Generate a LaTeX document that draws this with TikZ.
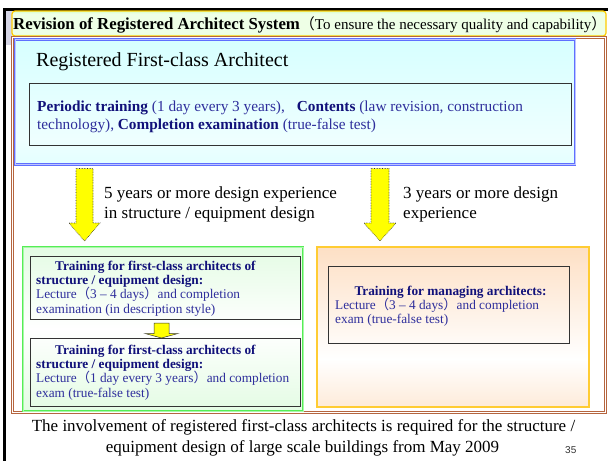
\documentclass[tikz,border=0pt]{standalone}
\usepackage{fontspec}
\setmainfont{Liberation Serif}
\newfontfamily\cjk{Noto Sans CJK JP}
\newfontfamily\sansf{Liberation Sans}
\usetikzlibrary{calc}
\definecolor{brn}{HTML}{B5653F}
\definecolor{bluel}{HTML}{5F6FFF}
\definecolor{cyanf}{HTML}{C8FFFF}
\definecolor{cyanl}{HTML}{EEFFFF}
\definecolor{grn}{HTML}{55EE55}
\definecolor{grnf}{HTML}{C8F8C8}
\definecolor{gold}{HTML}{FFCC33}
\definecolor{peach}{HTML}{FCC99B}
\definecolor{navyb}{HTML}{11117A}
\definecolor{navyr}{HTML}{2E2E9C}
\definecolor{titlegreen}{HTML}{66FF33}
\definecolor{titlepale}{HTML}{EEFFE6}
\definecolor{ttyel}{HTML}{FFCC00}
\definecolor{lav}{HTML}{D6D6E6}
\definecolor{arrowyel}{HTML}{FFFF00}
\pgfdeclareverticalshading{titlesh}{100bp}{color(0bp)=(titlegreen); color(30bp)=(titlepale); color(70bp)=(titlepale); color(100bp)=(titlegreen)}
\pgfdeclareverticalshading{bluesh}{100bp}{color(0bp)=(cyanf); color(35bp)=(cyanl); color(100bp)=(cyanf)}
\pgfdeclareverticalshading{greensh}{100bp}{color(0bp)=(grnf); color(50bp)=(white); color(100bp)=(grnf)}
\pgfdeclareverticalshading{orangesh}{100bp}{color(0bp)=(peach); color(40bp)=(white); color(100bp)=(peach)}
\tikzset{
  box/.style={anchor=north west, inner sep=0pt, outer sep=0pt},
  titlebar/.style={box, draw=ttyel, line width=1.2pt, rounded corners=3pt, shading=titlesh},
  brownbox/.style={box, draw=brn, double=white, double distance=1.2pt, line width=0.8pt},
  bluebox/.style={box, draw=bluel, double=white!60!bluel, double distance=0.7pt, line width=0.8pt, shading=bluesh},
  greenbox/.style={box, draw=grn, double=white!50!grn, double distance=0.7pt, line width=0.8pt, shading=greensh},
  orangebox/.style={box, draw=gold, line width=2.6pt, shading=orangesh},
  innerbox/.style={box, draw=black!80, line width=0.8pt},
  bigarrow/.style={fill=arrowyel, draw=black!80, densely dotted, line width=0.6pt},
  smallarrow/.style={fill=arrowyel, draw=black!80, line width=0.5pt},
  txt/.style={anchor=base west, inner sep=0pt},
  ctxt/.style={anchor=base, inner sep=0pt},
  big/.style={font=\fontsize{20}{24}\selectfont},
  mid/.style={font=\fontsize{17}{20}\selectfont},
  blu/.style={font=\fontsize{15.3}{18}\selectfont, text=navyr},
  sml/.style={font=\fontsize{13.3}{15}\selectfont, text=navyr},
}
\newcommand{\lp}{{\cjk （}}
\newcommand{\rp}{{\cjk ）}}
\newcommand{\rpn}{\makebox[0.55em][l]{\cjk ）}}
\newcommand{\nb}[1]{\textcolor{navyb}{\textbf{#1}}}
\begin{document}
\begin{tikzpicture}[x=1pt,y=-1pt]
\useasboundingbox (0,0) rectangle (608,461);
\fill[white] (0,0) rectangle (608,461);
% frame
\fill[black] (3,8) rectangle (608,10.5);
\fill[black] (3,8) rectangle (5.5,461);
\fill[lav] (5.5,10.5) rectangle (12,45);
% title
\node[titlebar, minimum width=594pt, minimum height=25pt] (title) at (12,11) {};
\node[txt] (titletext) at (13,29)
  {\fontsize{16.8}{18}\selectfont\textbf{Revision of Registered Architect System}\fontsize{15}{18}\selectfont\lp To ensure the necessary quality and capability\rpn};
% brown frame
\node[brownbox, minimum width=593pt, minimum height=375pt] (frame) at (12.5,37.5) {};
% blue box
\node[bluebox, minimum width=560pt, minimum height=125pt] (blue) at (15,39.5) {};
\node[txt, big] (regname) at (36,66) {Registered First-class Architect};
\node[innerbox, minimum width=542pt, minimum height=62pt] (blueinner) at (29,83) {};
\node[txt, blu] (bl1) at (37,111) {\nb{Periodic training} (1 day every 3 years),\hspace{12pt}\nb{Contents} (law revision, construction};
\node[txt, blu] (bl2) at (37,129) {technology), \nb{Completion examination} (true-false test)};
% big arrows
\draw[bigarrow] (76,168.5) -- (93,168.5) -- (93,223) -- (100,223) -- (84.5,241) -- (69,223) -- (76,223) -- cycle;
\draw[bigarrow] (371,168.5) -- (389,168.5) -- (389,223) -- (396,223) -- (380,241) -- (364,223) -- (371,223) -- cycle;
\node[txt, mid] (cond1a) at (104,198) {5 years or more design experience};
\node[txt, mid] (cond1b) at (104,218) {in structure / equipment design};
\node[txt, mid] (cond2a) at (403,198) {3 years or more design};
\node[txt, mid] (cond2b) at (403,218) {experience};
% green box
\node[greenbox, minimum width=280pt, minimum height=164pt] (green) at (23,247) {};
\node[innerbox, minimum width=270pt, minimum height=63pt] (g1) at (30,256) {};
\node[innerbox, minimum width=270pt, minimum height=68pt] (g2) at (30,338) {};
\draw[smallarrow] (154,323) -- (169,323) -- (169,333.5) -- (178,333.5) -- (161.5,338) -- (145,333.5) -- (154,333.5) -- cycle;
\node[txt, sml] (g1a) at (55,270) {\nb{Training for first-class architects of}};
\node[txt, sml] (g1b) at (36,284) {\nb{structure / equipment design:}};
\node[txt, sml] (g1c) at (36,298) {Lecture\lp 3 -- 4 days\rp and completion};
\node[txt, sml] (g1d) at (36,313) {examination (in description style)};
\node[txt, sml] (g2a) at (55,354) {\nb{Training for first-class architects of}};
\node[txt, sml] (g2b) at (36,368) {\nb{structure / equipment design:}};
\node[txt, sml] (g2c) at (36,382) {Lecture\lp 1 day every 3 years\rp and completion};
\node[txt, sml] (g2d) at (36,397) {exam (true-false test)};
% orange box
\node[orangebox, minimum width=272pt, minimum height=160pt] (orange) at (317,247) {};
\node[innerbox, minimum width=241pt, minimum height=77pt] (o1) at (328,266) {};
\node[ctxt, sml] (o1a) at (450.5,295) {\nb{Training for managing architects:}};
\node[txt, sml] (o1b) at (335,309) {Lecture\lp 3 -- 4 days\rp and completion};
\node[txt, sml] (o1c) at (335,323) {exam (true-false test)};
% bottom text
\node[ctxt, mid] (foot1) at (303.5,431) {The involvement of registered first-class architects is required for the structure /};
\node[ctxt, mid] (foot2) at (302.5,452) {equipment design of large scale buildings from May 2009};
\node[txt, font=\sansf\fontsize{10}{12}\selectfont, text=black!80] (pagenum) at (565,453) {35};
\end{tikzpicture}
\end{document}
